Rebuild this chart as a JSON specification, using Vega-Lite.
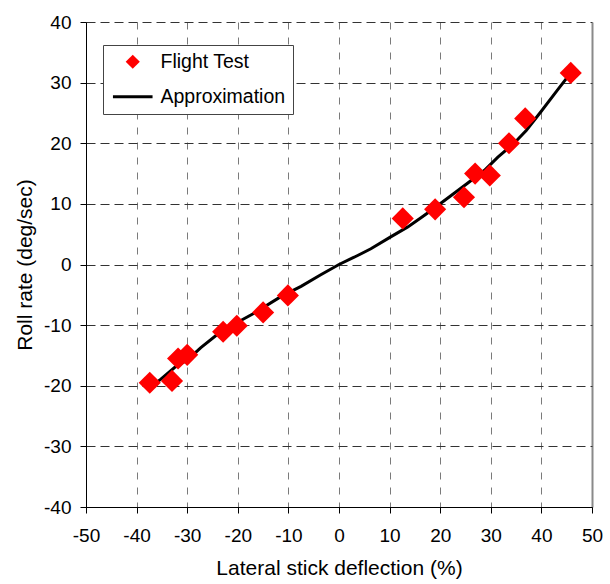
{
  "$schema": "https://vega.github.io/schema/vega-lite/v6.json",
  "width": 506,
  "height": 485,
  "autosize": {"type": "none"},
  "padding": {"left": 86, "top": 22, "right": 18, "bottom": 77},
  "background": "white",
  "config": {
    "view": {"stroke": null},
    "font": "Liberation Sans",
    "axis": {"labelFont": "Liberation Sans", "titleFont": "Liberation Sans", "labelColor": "#000", "titleColor": "#000", "titleFontWeight": "normal", "labelFlush": false}
  },
  "datasets": {
    "flight": [
      {"x": -37.4, "y": -19.5, "series": "Flight Test"},
      {"x": -33.0, "y": -19.2, "series": "Flight Test"},
      {"x": -31.8, "y": -15.5, "series": "Flight Test"},
      {"x": -30.0, "y": -14.9, "series": "Flight Test"},
      {"x": -22.9, "y": -11.1, "series": "Flight Test"},
      {"x": -20.2, "y": -10.1, "series": "Flight Test"},
      {"x": -15.0, "y": -7.9, "series": "Flight Test"},
      {"x": -10.1, "y": -5.1, "series": "Flight Test"},
      {"x": 12.6, "y": 7.6, "series": "Flight Test"},
      {"x": 19.0, "y": 9.1, "series": "Flight Test"},
      {"x": 24.7, "y": 11.1, "series": "Flight Test"},
      {"x": 26.9, "y": 15.0, "series": "Flight Test"},
      {"x": 29.8, "y": 14.7, "series": "Flight Test"},
      {"x": 33.6, "y": 20.0, "series": "Flight Test"},
      {"x": 36.8, "y": 24.1, "series": "Flight Test"},
      {"x": 45.8, "y": 31.6, "series": "Flight Test"}
    ],
    "approx": [
      {"x": -37.2, "y": -20.2},
      {"x": -35.2, "y": -18.9},
      {"x": -32.5, "y": -17.0},
      {"x": -29.9, "y": -15.7},
      {"x": -27.3, "y": -13.7},
      {"x": -24.0, "y": -11.5},
      {"x": -21.3, "y": -10.1},
      {"x": -16.7, "y": -8.0},
      {"x": -11.5, "y": -5.3},
      {"x": -7.5, "y": -3.6},
      {"x": -3.6, "y": -1.7},
      {"x": 0.0, "y": 0.0},
      {"x": 3.0, "y": 1.2},
      {"x": 6.3, "y": 2.6},
      {"x": 10.3, "y": 4.6},
      {"x": 13.6, "y": 6.2},
      {"x": 16.2, "y": 7.7},
      {"x": 18.2, "y": 8.9},
      {"x": 22.7, "y": 11.7},
      {"x": 25.4, "y": 13.4},
      {"x": 28.7, "y": 15.5},
      {"x": 31.4, "y": 17.7},
      {"x": 34.6, "y": 20.0},
      {"x": 37.0, "y": 22.1},
      {"x": 39.9, "y": 25.2},
      {"x": 43.2, "y": 28.8},
      {"x": 45.8, "y": 31.6}
    ]
  },
  "layer": [
    {
      "data": {"name": "approx"},
      "mark": {"type": "line", "color": "#000", "strokeWidth": 3},
      "encoding": {
        "x": {
          "field": "x", "type": "quantitative",
          "scale": {"domain": [-50, 50], "nice": false, "zero": false},
          "axis": {
            "title": "Lateral stick deflection (%)",
            "values": [-50, -40, -30, -20, -10, 0, 10, 20, 30, 40, 50],
            "labelExpr": "'' + datum.value",
            "grid": true,
            "gridColor": {"condition": {"test": "datum.value === 50", "value": "#8a8a8a"}, "value": "#7a7a7a"},
            "gridDash": {"condition": {"test": "datum.value === 50", "value": []}, "value": [7, 8]},
            "gridWidth": {"condition": {"test": "datum.value === 50", "value": 2}, "value": 1},
            "domainColor": "#000", "tickColor": "#000", "tickSize": 6,
            "labelFontSize": 19, "labelPadding": 13, "titleFontSize": 21, "titlePadding": 12
          }
        },
        "y": {
          "field": "y", "type": "quantitative",
          "scale": {"domain": [-40, 40], "nice": false, "zero": false},
          "axis": {
            "title": "Roll rate (deg/sec)",
            "values": [-40, -30, -20, -10, 0, 10, 20, 30, 40],
            "labelExpr": "'' + datum.value",
            "grid": true, "gridColor": "#333", "gridDash": [9, 5],
            "domainColor": "#000", "tickColor": "#000", "tickSize": 6,
            "labelFontSize": 19, "labelPadding": 9, "titleFontSize": 21, "titlePadding": 8
          }
        }
      }
    },
    {
      "data": {"name": "flight"},
      "mark": {"type": "point", "filled": true, "opacity": 1, "size": 490},
      "encoding": {
        "x": {"field": "x", "type": "quantitative"},
        "y": {"field": "y", "type": "quantitative"},
        "color": {
          "field": "series", "type": "nominal",
          "scale": {"domain": ["Flight Test", "Approximation"], "range": ["#ff0000", "#000000"]},
          "legend": {
            "title": null, "orient": "none", "legendX": 17, "legendY": 23,
            "fillColor": "white", "strokeColor": "#444", "padding": 7,
            "labelFontSize": 19.5, "labelFont": "Liberation Sans", "labelColor": "#000",
            "symbolSize": 200, "symbolOffset": 13, "rowPadding": 14, "labelOffset": 18,
            "symbolStrokeWidth": 0, "symbolOpacity": 1
          }
        },
        "shape": {
          "field": "series", "type": "nominal",
          "scale": {"domain": ["Flight Test", "Approximation"], "range": ["diamond", "M-2.8,-0.21H2.8V0.21H-2.8Z"]}
        }
      }
    }
  ]
}
